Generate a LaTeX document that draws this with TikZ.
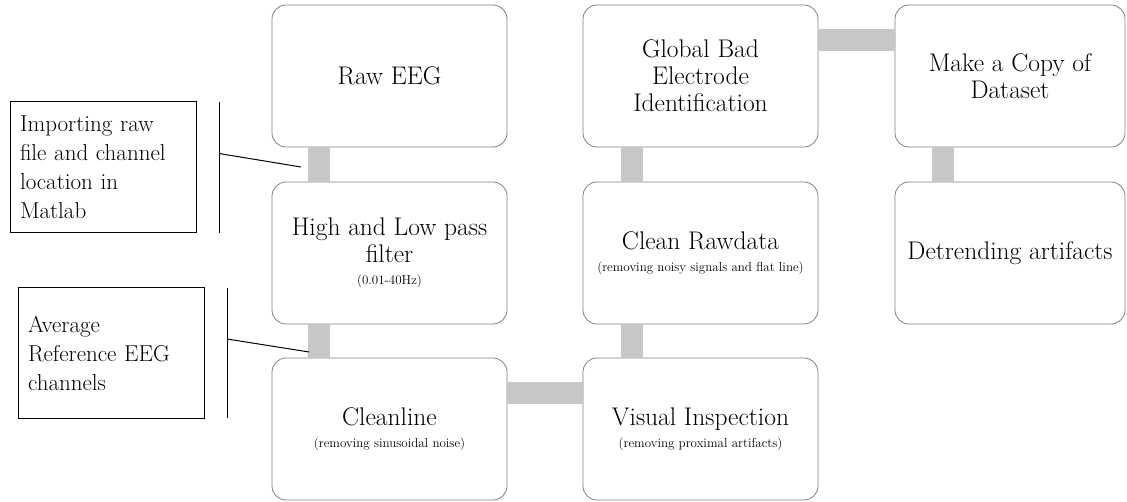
\documentclass[tikz,border=0pt]{standalone}
\usepackage{tikz}
\usetikzlibrary{positioning}
\tikzset{
  stage/.style={rectangle, draw=black!50, line width=0.8pt, rounded corners=14pt,
                minimum width=235pt, minimum height=142pt, outer sep=0pt,
                inner xsep=2pt, align=center, font=\fontsize{25.5}{27}\selectfont},
  note/.style={rectangle, draw, line width=1pt, minimum width=186pt,
               minimum height=130pt, outer sep=0pt, inner xsep=10pt,
               text width=166pt, align=left, font=\fontsize{23}{29}\selectfont},
  bar/.style={draw=black!22, line width=22pt},
  callout/.style={draw, line width=1pt},
}
\newcommand{\stagesub}[1]{{\fontsize{13}{15}\selectfont #1}}

\begin{document}
\begin{tikzpicture}[x=1pt, y=-1pt, node distance=35pt]

  \useasboundingbox (0,0) rectangle (1127,502);

  % first column
  \node[stage] (raw) at (389.5,76) {Raw EEG};

  \node[stage, below=of raw] (hlp)
    {High and Low pass\\filter\\[-5pt]\stagesub{(0.01-40Hz)}};

  \node[stage, below=34pt of hlp] (cln)
    {Cleanline\\[-5pt]\stagesub{(removing sinusoidal noise)}};

  % second column
  \node[stage, right=76pt of cln] (vis)
    {Visual Inspection\\[-5pt]\stagesub{(removing proximal artifacts)}};

  \node[stage, above=34pt of vis] (crd)
    {Clean Rawdata\\[-5pt]\stagesub{(removing noisy signals and flat line)}};

  \node[stage, above=of crd] (gbe)
    {Global Bad\\Electrode\\Identification};

  % third column
  \node[stage, minimum width=230pt, right=77pt of gbe] (mcd)
    {Make a Copy of\\Dataset};

  \node[stage, minimum width=230pt, below=of mcd] (dtr) {Detrending artifacts};

  % connectors
  \draw[bar] ([xshift=47pt]raw.south west) -- ([xshift=47pt]hlp.north west);
  \draw[bar] ([xshift=47pt]hlp.south west) -- ([xshift=47pt]cln.north west);
  \draw[bar] ([yshift=-35pt]cln.north east) -- ([yshift=-35pt]vis.north west);
  \draw[bar] ([xshift=49pt]vis.north west) -- ([xshift=49pt]crd.south west);
  \draw[bar] ([xshift=49pt]crd.north west) -- ([xshift=49pt]gbe.south west);
  \draw[bar] ([yshift=-35pt]gbe.north east) -- ([yshift=-35pt]mcd.north west);
  \draw[bar] ([xshift=48pt]mcd.south west) -- ([xshift=48pt]dtr.north west);

  % side notes
  \node[note, minimum height=131pt] (imp) at (103,167.5)
    {Importing raw\\file and channel\\location in\\Matlab};

  \node[note] (avg) at (111,353)
    {Average\\Reference EEG\\channels};

  \coordinate (impend) at (301,167);
  \coordinate (avgend) at (309,352);

  \draw[callout] ([xshift=23pt]imp.north east) -- ([xshift=23pt]imp.south east);
  \draw[callout] ([xshift=23pt, yshift=14pt]imp.east) -- (impend);
  \draw[callout] ([xshift=23pt]avg.north east) -- ([xshift=23pt]avg.south east);
  \draw[callout] ([xshift=23pt, yshift=14pt]avg.east) -- (avgend);

\end{tikzpicture}
\end{document}
